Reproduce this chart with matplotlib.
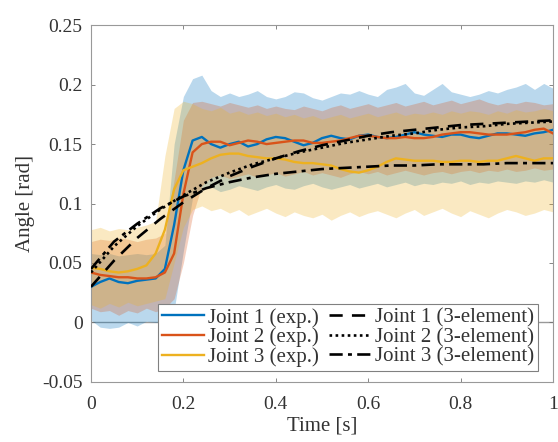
import numpy as np
import matplotlib
matplotlib.use('Agg')
import matplotlib.pyplot as plt

plt.rcParams['font.family'] = ['Liberation Serif', 'DejaVu Serif']

# experimental time base (s)
t_exp = np.round(np.arange(0, 1.0001, 0.02), 2)

# mean angle, experiments (rad)
joint1_exp = [0.030, 0.034, 0.037, 0.034, 0.033, 0.035, 0.036, 0.037, 0.045, 0.082,
              0.128, 0.153, 0.156, 0.150, 0.147, 0.150, 0.152, 0.148, 0.150, 0.154,
              0.156, 0.155, 0.152, 0.149, 0.151, 0.155, 0.157, 0.155, 0.154, 0.157,
              0.158, 0.156, 0.155, 0.156, 0.158, 0.160, 0.158, 0.157, 0.156, 0.158,
              0.158, 0.156, 0.155, 0.157, 0.159, 0.159, 0.158, 0.157, 0.159, 0.160,
              0.162]
joint2_exp = [0.042, 0.040, 0.039, 0.038, 0.038, 0.037, 0.037, 0.038, 0.042, 0.058,
              0.108, 0.143, 0.150, 0.152, 0.152, 0.149, 0.151, 0.153, 0.152, 0.150,
              0.151, 0.152, 0.153, 0.153, 0.151, 0.151, 0.152, 0.153, 0.155, 0.157,
              0.157, 0.156, 0.155, 0.155, 0.156, 0.155, 0.155, 0.156, 0.158, 0.159,
              0.160, 0.160, 0.159, 0.158, 0.158, 0.158, 0.159, 0.160, 0.162, 0.163,
              0.159]
joint3_exp = [0.046, 0.045, 0.043, 0.042, 0.043, 0.045, 0.048, 0.058, 0.078, 0.112,
              0.128, 0.131, 0.134, 0.138, 0.141, 0.142, 0.142, 0.140, 0.139, 0.138,
              0.138, 0.137, 0.135, 0.134, 0.134, 0.133, 0.132, 0.129, 0.127, 0.126,
              0.128, 0.131, 0.135, 0.138, 0.137, 0.136, 0.136, 0.136, 0.135, 0.135,
              0.136, 0.136, 0.135, 0.136, 0.136, 0.138, 0.140, 0.138, 0.136, 0.138,
              0.138]

# spread bands (upper / lower)
joint1_up = [0.058, 0.057, 0.058, 0.056, 0.057, 0.058, 0.057, 0.058, 0.065, 0.150,
             0.190, 0.205, 0.208, 0.195, 0.190, 0.193, 0.190, 0.192, 0.195, 0.190,
             0.188, 0.190, 0.194, 0.193, 0.189, 0.187, 0.190, 0.193, 0.192, 0.195,
             0.192, 0.190, 0.196, 0.198, 0.201, 0.193, 0.191, 0.196, 0.201, 0.194,
             0.192, 0.190, 0.192, 0.195, 0.193, 0.196, 0.198, 0.201, 0.196, 0.201,
             0.197]
joint1_lo = [0.002, -0.004, -0.005, -0.004, 0.000, -0.003, 0.001, 0.000, 0.002, 0.010,
             0.060, 0.105, 0.112, 0.114, 0.110, 0.112, 0.115, 0.113, 0.111, 0.114,
             0.116, 0.113, 0.112, 0.115, 0.117, 0.114, 0.112, 0.114, 0.116, 0.113,
             0.115, 0.117, 0.114, 0.116, 0.118, 0.115, 0.117, 0.116, 0.118, 0.117,
             0.119, 0.116, 0.118, 0.117, 0.119, 0.118, 0.117, 0.119, 0.118, 0.120,
             0.118]
joint2_up = [0.068, 0.070, 0.069, 0.071, 0.070, 0.068, 0.070, 0.071, 0.075, 0.120,
             0.170, 0.185, 0.186, 0.184, 0.182, 0.185, 0.183, 0.181, 0.183, 0.180,
             0.182, 0.180, 0.179, 0.182, 0.180, 0.178, 0.181, 0.183, 0.180, 0.182,
             0.184, 0.181, 0.183, 0.185, 0.182, 0.184, 0.186, 0.183, 0.185, 0.187,
             0.184, 0.186, 0.188, 0.185, 0.183, 0.185, 0.184, 0.186, 0.185, 0.183,
             0.184]
joint2_lo = [0.012, 0.009, 0.010, 0.006, 0.010, 0.008, 0.012, 0.009, 0.012, 0.020,
             0.050, 0.090, 0.115, 0.122, 0.124, 0.121, 0.123, 0.125, 0.122, 0.124,
             0.126, 0.123, 0.125, 0.127, 0.124, 0.126, 0.124, 0.122, 0.125, 0.127,
             0.125, 0.127, 0.124, 0.126, 0.128, 0.126, 0.124, 0.126, 0.127, 0.125,
             0.127, 0.128, 0.126, 0.128, 0.127, 0.129, 0.127, 0.128, 0.130, 0.128,
             0.129]
joint3_up = [0.078, 0.080, 0.077, 0.079, 0.078, 0.080, 0.082, 0.085, 0.140, 0.180,
             0.186, 0.184, 0.180, 0.178, 0.181, 0.176, 0.178, 0.175, 0.177, 0.174,
             0.176, 0.173, 0.175, 0.172, 0.174, 0.171, 0.173, 0.175, 0.172, 0.174,
             0.176, 0.173, 0.175, 0.177, 0.174, 0.176, 0.175, 0.177, 0.175, 0.178,
             0.176, 0.178, 0.177, 0.175, 0.178, 0.176, 0.179, 0.177, 0.178, 0.180,
             0.178]
joint3_lo = [0.015, 0.012, 0.016, 0.013, 0.017, 0.014, 0.016, 0.018, 0.020, 0.050,
             0.080, 0.095, 0.098, 0.094, 0.096, 0.092, 0.095, 0.090, 0.093, 0.096,
             0.092, 0.089, 0.093, 0.090, 0.088, 0.091, 0.086, 0.090, 0.093, 0.089,
             0.092, 0.094, 0.091, 0.088, 0.092, 0.095, 0.090, 0.093, 0.096, 0.092,
             0.089, 0.094, 0.091, 0.088, 0.092, 0.095, 0.093, 0.090, 0.092, 0.095,
             0.093]

# 3-element model responses
t_model = np.round(np.arange(0, 1.0001, 0.05), 2)
joint1_model = [0.030, 0.052, 0.071, 0.087, 0.101, 0.113, 0.123, 0.131, 0.138, 0.144,
                0.149, 0.153, 0.157, 0.160, 0.162, 0.164, 0.166, 0.167, 0.168, 0.169,
                0.170]
joint2_model = [0.042, 0.064, 0.081, 0.095, 0.107, 0.118, 0.126, 0.133, 0.138, 0.143,
                0.147, 0.151, 0.154, 0.157, 0.159, 0.162, 0.164, 0.165, 0.167, 0.168,
                0.169]
joint3_model = [0.045, 0.068, 0.083, 0.096, 0.106, 0.113, 0.118, 0.122, 0.125, 0.127,
                0.129, 0.130, 0.131, 0.132, 0.132, 0.133, 0.133, 0.133, 0.134, 0.134,
                0.134]

colors = ['#0072BD', '#D95319', '#EDB120']
txtcol = '#333333'

fig = plt.figure(figsize=(5.58, 4.42), dpi=100)
ax = fig.add_axes([0.163, 0.136, 0.828, 0.807])

ax.axhline(0, color='0.6', lw=1.0, zorder=1)

bands = [(joint1_up, joint1_lo), (joint2_up, joint2_lo), (joint3_up, joint3_lo)]
for (up, lo), c in zip(bands, colors):
    ax.fill_between(t_exp, lo, up, color=c, alpha=0.27, lw=0, zorder=2)

exp_lines = []
for y, c, i in zip([joint1_exp, joint2_exp, joint3_exp], colors, range(3)):
    l, = ax.plot(t_exp, y, color=c, lw=1.7, zorder=3,
                 label='Joint %d (exp.)' % (i + 1))
    exp_lines.append(l)

m1, = ax.plot(t_model, joint1_model, color='k', lw=1.9, ls=(0, (5, 3.5)), zorder=4,
              label='Joint 1 (3-element)')
m2, = ax.plot(t_model, joint2_model, color='k', lw=1.9, ls=(0, (1, 1.3)), zorder=4,
              label='Joint 2 (3-element)')
m3, = ax.plot(t_model, joint3_model, color='k', lw=1.9, ls=(0, (5, 2, 1.5, 2)), zorder=4,
              label='Joint 3 (3-element)')

ax.set_xlim(0, 1)
ax.set_ylim(-0.05, 0.25)
ax.set_xticks([0, 0.2, 0.4, 0.6, 0.8, 1])
ax.set_xticklabels(['0', '0.2', '0.4', '0.6', '0.8', '1'])
ax.set_yticks([-0.05, 0, 0.05, 0.1, 0.15, 0.2, 0.25])
ax.set_yticklabels(['-0.05', '0', '0.05', '0.1', '0.15', '0.2', '0.25'])
ax.tick_params(direction='in', top=True, right=True, length=3, width=0.6,
               colors='0.45', labelcolor=txtcol, labelsize=14)
ax.tick_params(axis='x', pad=10)
ax.tick_params(axis='y', pad=6)
for s in ax.spines.values():
    s.set_color('0.6')
    s.set_linewidth(0.8)

ax.set_xlabel('Time [s]', fontsize=15, color=txtcol, labelpad=3)
ax.set_ylabel('Angle [rad]', fontsize=15, color=txtcol, labelpad=5)

leg = ax.legend(handles=exp_lines + [m1, m2, m3], ncol=2, loc='lower right',
                bbox_to_anchor=(0.968, 0.03), fontsize=15, fancybox=False,
                framealpha=1, edgecolor='0.5', handlelength=2.0,
                handletextpad=0.2, columnspacing=0.5, borderpad=0.2,
                labelspacing=0.0, borderaxespad=0)
leg.get_frame().set_linewidth(0.8)
for txt in leg.get_texts():
    txt.set_color(txtcol)

fig.savefig('out.png', dpi=100)
